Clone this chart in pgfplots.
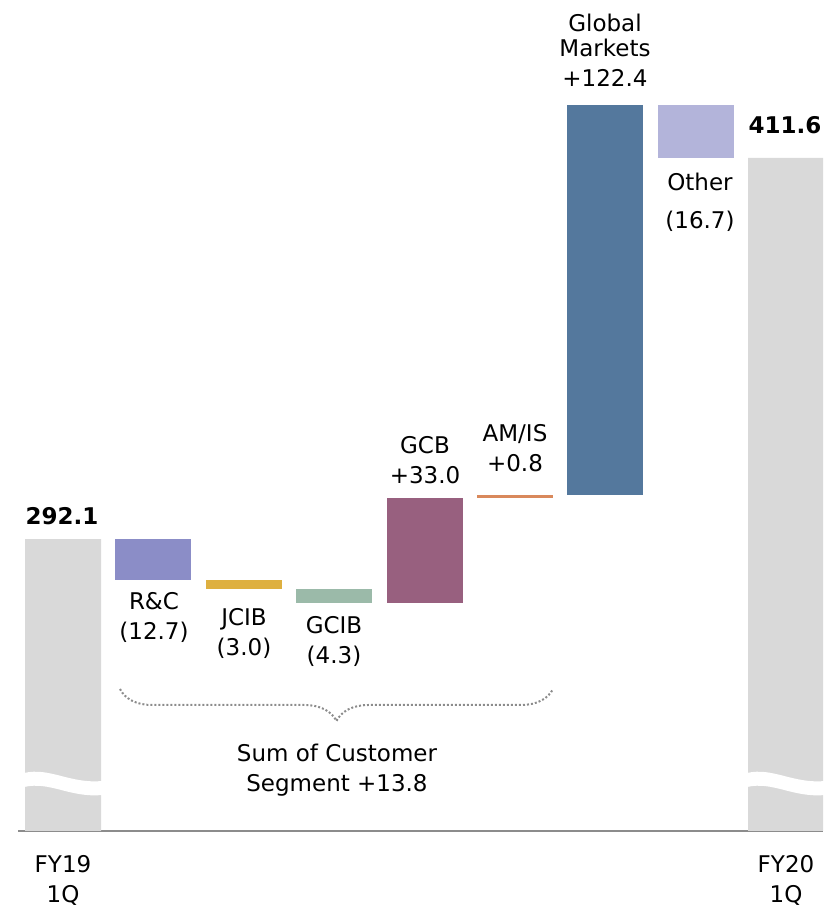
\documentclass[border=0pt]{standalone}
\usepackage{pgfplots}
\pgfplotsset{compat=1.18}
\usepackage{pgfplotstable}
\usepackage{fontspec}
\setmainfont{DejaVu Sans}
\usetikzlibrary{decorations.pathreplacing}
\definecolor{fybar}{HTML}{D9D9D9}
\definecolor{rc}{HTML}{8B8DC7}
\definecolor{jcib}{HTML}{DEB040}
\definecolor{gcib}{HTML}{9BBAA9}
\definecolor{gcb}{HTML}{98607F}
\definecolor{amis}{HTML}{D9895C}
\definecolor{gm}{HTML}{54789D}
\definecolor{other}{HTML}{B3B4DA}
\definecolor{axgray}{HTML}{8C8C8C}
\pgfplotstableread{
x base fy rc jcib gcib gcb amis gm other
0 0     292.1 0    0   0   0    0   0     0
1 279.4 0     12.7 0   0   0    0   0     0
2 276.4 0     0    3.0 0   0    0   0     0
3 272.1 0     0    0   4.3 0    0   0     0
4 272.1 0     0    0   0   33.0 0   0     0
5 305.1 0     0    0   0   0    0.8 0     0
6 305.9 0     0    0   0   0    0   122.4 0
7 411.6 0     0    0   0   0    0   0     16.7
8 0     411.6 0    0   0   0    0   0     0
}\wf
\begin{document}
\begin{tikzpicture}
\path[use as bounding box] (0,0) rectangle (823pt,908pt);
\begin{axis}[
  at={(18pt,77pt)}, anchor=south west,
  scale only axis, width=805pt, height=831pt,
  xmin=-0.4978, xmax=8.407, ymin=200.6, ymax=461.1,
  ybar stacked, bar width=76pt,
  axis x line*=bottom, axis y line=none,
  x axis line style={axgray, line width=1.5pt, -},
  xtick=\empty, ytick=\empty,
  every axis plot/.append style={draw=none},
]
\addplot[fill=none, draw=none] table[x=x,y=base]{\wf};
\addplot[fill=fybar] table[x=x,y=fy]{\wf};
\addplot[fill=rc] table[x=x,y=rc]{\wf};
\addplot[fill=jcib] table[x=x,y=jcib]{\wf};
\addplot[fill=gcib] table[x=x,y=gcib]{\wf};
\addplot[fill=gcb] table[x=x,y=gcb]{\wf};
\addplot[fill=amis] table[x=x,y=amis]{\wf};
\addplot[fill=gm] table[x=x,y=gm]{\wf};
\addplot[fill=other] table[x=x,y=other]{\wf};
\end{axis}
\begin{scope}[shift={(0,908pt)}, yscale=-1, every node/.style={align=center, font=\fontsize{23}{30}\selectfont}]
  % break marks
  \foreach \dx in {0pt,723pt}{
    \fill[white, xshift=\dx] (24pt,773pt) .. controls (50pt,767pt) and (70pt,784pt) .. (102pt,781pt)
      -- (102pt,795pt) .. controls (70pt,798pt) and (50pt,781pt) .. (24pt,787pt) -- cycle;
  }
  \node at (62pt,516pt) {\textbf{292.1}};
  \node at (785pt,125pt) {\textbf{411.6}};
  \node at (154pt,617pt) {R\&C\\(12.7)};
  \node at (244pt,633pt) {JCIB\\(3.0)};
  \node at (334pt,641pt) {GCIB\\(4.3)};
  \node at (425pt,460pt) {GCB\\+33.0};
  \node at (515pt,448pt) {AM/IS\\+0.8};
  \node[font=\fontsize{23}{25}\selectfont] at (605pt,35pt) {Global\\Markets};
  \node at (605pt,78pt) {+122.4};
  \node at (700pt,182pt) {Other};
  \node at (700pt,221pt) {(16.7)};
  \node at (337pt,770pt) {Sum of Customer\\Segment +13.8};
  \node at (63pt,880pt) {FY19\\1Q};
  \node at (786pt,880pt) {FY20\\1Q};
  \draw[axgray, line width=2pt, dotted, decorate, decoration={brace, mirror, amplitude=32pt, aspect=0.5}]
    (120pt,689pt) -- (553pt,689pt);
\end{scope}
\end{tikzpicture}
\end{document}
